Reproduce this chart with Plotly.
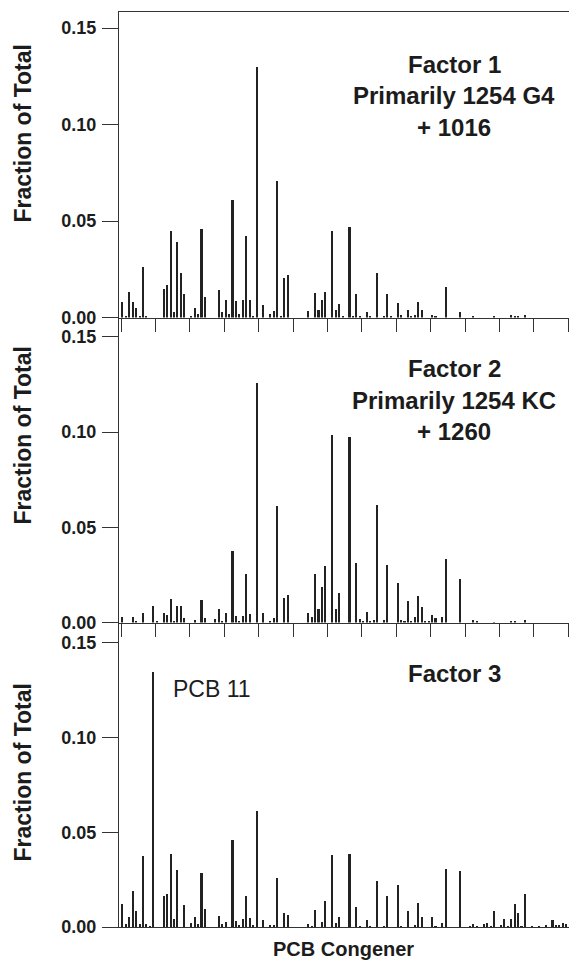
import plotly.graph_objects as go
from plotly.subplots import make_subplots

# ---------------- data ----------------
congener_index = list(range(131))
tick_positions = [10 * k - 0.4 for k in range(14)]
y_ticks = [0.0, 0.05, 0.10, 0.15]
y_tick_labels = ["0.00", "0.05", "0.10", "0.15"]

factor1_values = [
    0.008, 0.001, 0.013, 0.008, 0.005, 0.001, 0.026, 0.001, 0, 0,
    0, 0, 0.015, 0.017, 0.045, 0.003, 0.039, 0.023, 0.012, 0,
    0.001, 0.005, 0.002, 0.046, 0.0105, 0, 0, 0, 0.014, 0.003,
    0.009, 0.002, 0.061, 0.0084, 0.002, 0.009, 0.042, 0.009, 0.001, 0.130,
    0, 0.0067, 0, 0.002, 0.0035, 0.0705, 0.001, 0.0207, 0.022, 0,
    0, 0, 0, 0, 0.0035, 0, 0.0126, 0.004, 0.009, 0.013,
    0, 0.045, 0.004, 0.007, 0.001, 0, 0.047, 0.001, 0.012, 0.001,
    0, 0.0026, 0.001, 0, 0.023, 0, 0.001, 0.012, 0.001, 0,
    0.0075, 0.0014, 0, 0.004, 0.001, 0.0014, 0.008, 0.004, 0, 0,
    0.0014, 0.001, 0, 0, 0.016, 0, 0, 0, 0.003, 0,
    0, 0, 0.0005, 0, 0, 0, 0, 0, 0.0005, 0,
    0, 0, 0, 0.0012, 0.0005, 0.0005, 0, 0.0012, 0, 0,
    0, 0, 0, 0, 0, 0, 0, 0, 0, 0,
    0,
]

factor2_values = [
    0.003, 0, 0, 0.003, 0.001, 0, 0.005, 0, 0, 0.0087,
    0.001, 0, 0.005, 0.0044, 0.0127, 0.001, 0.009, 0.009, 0.0026, 0,
    0, 0.0014, 0, 0.0122, 0.0026, 0, 0, 0.0023, 0.0075, 0.001,
    0.005, 0, 0.038, 0.0035, 0.001, 0.0038, 0.0258, 0.0045, 0, 0.126,
    0, 0.005, 0, 0.001, 0.0026, 0.0615, 0, 0.0132, 0.0145, 0,
    0, 0, 0, 0, 0.005, 0.003, 0.0258, 0.0075, 0.019, 0.0298,
    0, 0.0986, 0.0075, 0.016, 0, 0, 0.0976, 0, 0.0315, 0.002,
    0.001, 0.006, 0.001, 0.0014, 0.062, 0, 0.0014, 0.0305, 0, 0,
    0.021, 0.0014, 0.001, 0.0113, 0.001, 0.003, 0.014, 0.0084, 0.001, 0.001,
    0.004, 0.0025, 0, 0.0032, 0.0336, 0, 0, 0, 0.0232, 0,
    0, 0, 0.0015, 0.0012, 0, 0, 0, 0, 0.0005, 0,
    0, 0, 0, 0.001, 0.0008, 0, 0, 0.0017, 0, 0,
    0, 0, 0, 0, 0, 0, 0, 0, 0, 0,
    0,
]

factor3_values = [
    0.0123, 0.0018, 0.0056, 0.019, 0.0088, 0.0018, 0.0379, 0.002, 0.001, 0.1347,
    0, 0, 0.0167, 0.0176, 0.039, 0.0044, 0.0303, 0, 0.0118, 0,
    0.0026, 0.0053, 0.0018, 0.029, 0.010, 0, 0, 0, 0.0062, 0.0018,
    0.003, 0, 0.046, 0.0035, 0.0014, 0.0044, 0.0167, 0.0048, 0.0014, 0.0616,
    0, 0.004, 0, 0.0014, 0.0014, 0.026, 0, 0.0074, 0.0067, 0,
    0, 0, 0, 0, 0.002, 0.001, 0.0092, 0, 0.003, 0.014,
    0, 0.0382, 0.0026, 0.0053, 0, 0, 0.039, 0, 0.0106, 0.0005,
    0, 0.0039, 0.0005, 0, 0.0243, 0, 0.0005, 0.0164, 0, 0,
    0.0225, 0.0005, 0, 0.0088, 0, 0.0014, 0.0127, 0.0056, 0, 0,
    0.0054, 0.0009, 0, 0.0026, 0.0308, 0, 0, 0, 0.030, 0,
    0, 0.001, 0.0017, 0.0009, 0, 0.002, 0.0026, 0.0008, 0.0087, 0,
    0.0012, 0.0043, 0.0005, 0.0047, 0.0122, 0.0075, 0.0008, 0.0179, 0, 0.0005,
    0, 0.0007, 0, 0.0014, 0, 0.0038, 0.0012, 0.0014, 0.0026, 0.0017,
    0,
]

panel_titles = [
    ["Factor 1", "Primarily 1254 G4", "+ 1016"],
    ["Factor 2", "Primarily 1254 KC", "+ 1260"],
    ["Factor 3"],
]
y_title = "Fraction of Total"
x_title = "PCB Congener"
peak_label = "PCB 11"

# ---------------- figure ----------------
W, H = 569, 967
ML, MR, MT, MB = 119, 0, 12, 40
PW, PH = W - ML - MR, H - MT - MB

def px_x(px):
    return (px - ML) / PW

def px_y(py):
    return (H - MB - py) / PH

FONT = "Liberation Sans, Arial, sans-serif"
INK = "#1c1c1c"
LINE = "#333333"

fig = make_subplots(rows=3, cols=1, vertical_spacing=0)

series = [factor1_values, factor2_values, factor3_values]
for i, vals in enumerate(series):
    fig.add_trace(
        go.Bar(x=congener_index, y=vals, width=0.6,
               marker=dict(color="#222222", line=dict(width=0)),
               hoverinfo="x+y"),
        row=i + 1, col=1)

# panel pixel boundaries (top, bottom)
panels = [(12, 317.5), (317.5, 622.5), (622.5, 927)]
y_tops = [0.1583, 0.1602, 0.1606]

for i, (top, bot) in enumerate(panels):
    n = "" if i == 0 else str(i + 1)
    fig.layout["yaxis" + n].update(
        domain=[px_y(bot), px_y(top)],
        range=[0, y_tops[i]],
        tickvals=y_ticks, ticktext=y_tick_labels,
        ticks="outside", ticklen=16, tickwidth=1.3, tickcolor=LINE,
        ticklabelstandoff=2, automargin=False,
        showline=True, linecolor=LINE, linewidth=1.3,
        showgrid=False, zeroline=False,
        tickfont=dict(family=FONT, size=18, color=INK, weight="bold"),
    )
    fig.layout["xaxis" + n].update(
        range=[-0.98, 129.8], automargin=False,
        tickvals=tick_positions, showticklabels=False,
        ticks="outside" if i < 2 else "", ticklen=13, tickwidth=1.3, tickcolor=LINE,
        showline=True, linecolor=LINE, linewidth=1.3,
        mirror=(i == 0),
        showgrid=False, zeroline=False,
    )

annotations = []
# panel text blocks
text_rows_y = [[64, 95.5, 127], [368.5, 400, 431.5], [673]]
for lines, ys in zip(panel_titles, text_rows_y):
    for t, yy in zip(lines, ys):
        annotations.append(dict(
            text=t, x=px_x(454), y=px_y(yy), xref="paper", yref="paper",
            xanchor="center", yanchor="middle", showarrow=False,
            font=dict(family=FONT, size=24, color=INK, weight="bold")))

annotations.append(dict(
    text=peak_label, x=px_x(211.5), y=px_y(689), xref="paper", yref="paper",
    xanchor="center", yanchor="middle", showarrow=False,
    font=dict(family=FONT, size=23, color=INK)))

for yy in [134, 436, 773]:
    annotations.append(dict(
        text=y_title, x=px_x(22.5), y=px_y(yy), xref="paper", yref="paper",
        xanchor="center", yanchor="middle", showarrow=False, textangle=-90,
        font=dict(family=FONT, size=23, color=INK, weight="bold")))

annotations.append(dict(
    text=x_title, x=px_x(343), y=px_y(949), xref="paper", yref="paper",
    xanchor="center", yanchor="middle", showarrow=False,
    font=dict(family=FONT, size=20, color=INK, weight="bold")))

fig.update_layout(
    width=W, height=H,
    margin=dict(l=ML, r=MR, t=MT, b=MB, pad=0, autoexpand=False),
    paper_bgcolor="white", plot_bgcolor="white",
    showlegend=False, bargap=0,
    annotations=annotations,
)

fig.write_html(
    "out.html",
    config={"displayModeBar": False},
    post_script="document.body.style.margin='0';document.body.style.overflow='hidden';",
)
